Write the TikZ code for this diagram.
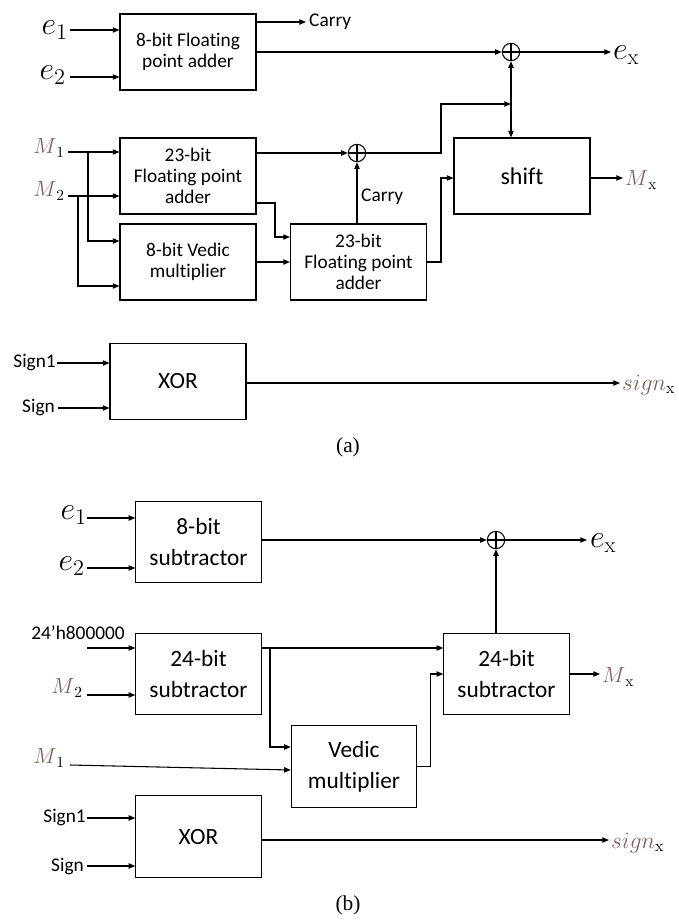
\RequirePackage{fix-cm}
\documentclass[tikz,border=0pt]{standalone}
\usepackage{fontspec}
\newfontfamily\cfont{Carlito}[Ligatures=NoCommon]
\newfontfamily\capfont{Liberation Serif}
\usetikzlibrary{arrows.meta}
\definecolor{mcol}{RGB}{128,96,96}

\begin{document}
\begin{tikzpicture}[x=0.75pt, y=-0.75pt, line width=0.8pt,
    blk/.style={draw, minimum width=102pt, minimum height=57pt, inner sep=1pt,
      align=center, font=\cfont\fontsize{14.5}{15.5}\selectfont},
    bblk/.style={draw, minimum width=94pt, minimum height=61pt, inner sep=1pt,
      align=center, font=\cfont\fontsize{17.5}{23}\selectfont},
    lab/.style={inner sep=0.5pt, font=\cfont\fontsize{14.5}{16}\selectfont},
    elab/.style={inner sep=0.5pt, font=\fontsize{24}{26}\selectfont},
    mlab/.style={inner sep=0.5pt, font=\fontsize{16.5}{18}\selectfont},
    arr/.style={-{Triangle[length=5pt, width=4pt]}},
    arr2/.style={{Triangle[length=5pt, width=4pt]}-{Triangle[length=5pt, width=4pt]}},
    xsum/.style={circle, draw, minimum size=13pt, inner sep=0pt}]
  \useasboundingbox (0,0) rectangle (678,920);

  % (a) exponent part
  \node[blk] (fadd) at (188,52) {8-bit Floating\\point adder};
  \coordinate (ine1) at (70,30);
  \coordinate (ine2) at (70,77);
  \node[elab, anchor=east] (e1a) at (69,30) {$e_1$};
  \node[elab, anchor=east] (e2a) at (67,75) {$e_2$};
  \draw[arr] (ine1) -- (ine1 -| fadd.west);
  \draw[arr] (ine2) -- (ine2 -| fadd.west);
  \coordinate (carry1) at (306,22);
  \draw[arr] (carry1 -| fadd.east) -- (carry1);
  \node[lab, anchor=west] (carrya) at (308,22) {Carry};
  \node[xsum] (suma) at (511,52) {};
  \draw (suma.north) -- (suma.south) (suma.west) -- (suma.east);
  \draw[arr] (suma -| fadd.east) -- (suma.west);
  \coordinate (outea) at (611,52);
  \draw[arr] (suma.east) -- (outea);
  \node[elab, anchor=west] (exa) at (612,55) {$e_{\mathrm{x}}$};

  % (a) mantissa part
  \node[blk] (madd) at (188,176) {23-bit\\Floating point\\adder};
  \node[blk] (vmul) at (188,262) {8-bit Vedic\\multiplier};
  \node[blk] (madd2) at (358.5,262) {23-bit\\Floating point\\adder};
  \node[blk, font=\cfont\fontsize{18}{20}\selectfont] (shft) at (522,176) {shift};
  \node[xsum] (sumb) at (357,153) {};
  \draw (sumb.north) -- (sumb.south) (sumb.west) -- (sumb.east);
  \coordinate (inm1) at (68,152);
  \coordinate (inm2) at (68,196);
  \node[mlab, anchor=east] (m1a) at (66,148) {$\textcolor{mcol}{M}_1$};
  \node[mlab, anchor=east] (m2a) at (66,191) {$\textcolor{mcol}{M}_2$};
  \draw[arr] (inm1) -- (inm1 -| madd.west);
  \draw[arr] (inm2) -- (inm2 -| madd.west);
  \coordinate (brm1) at (88,241);
  \coordinate (brm2) at (78,286);
  \draw[arr] (inm1 -| brm1) -- (brm1) -- (brm1 -| vmul.west);
  \draw[arr] (inm2 -| brm2) -- (brm2) -- (brm2 -| vmul.west);
  \draw[arr] (sumb -| madd.east) -- (sumb.west);
  \coordinate (bend1) at (275,203);
  \coordinate (bend2) at (275,237);
  \draw[arr] (bend1 -| madd.east) -- (bend1) -- (bend2) -- (bend2 -| madd2.west);
  \draw[arr] (vmul.east) -- (madd2.west);
  \draw[arr] (sumb |- madd2.north) -- (sumb.south);
  \node[lab, anchor=west] (carryb) at (360,197) {Carry};
  \coordinate (bend3) at (441,104);
  \coordinate (jn) at (511,104);
  \draw[arr] (sumb.east) -| (bend3) -- (jn);
  \draw[arr2] (suma.south) -- (suma.south |- shft.north);
  \coordinate (bend4) at (441,178);
  \draw[arr] (madd2.east) -| (bend4) -- (bend4 -| shft.west);
  \coordinate (outma) at (623,178);
  \draw[arr] (outma -| shft.east) -- (outma);
  \node[mlab, anchor=west] (mxa) at (624,180) {$\textcolor{mcol}{M}_{\mathrm{x}}$};

  % (a) sign part
  \node[blk, font=\cfont\fontsize{17.5}{20}\selectfont] (xora) at (178,381.5) {XOR};
  \coordinate (ins1a) at (57,363);
  \coordinate (ins2a) at (58,408);
  \node[lab, anchor=east] (s1a) at (57,363) {Sign1};
  \node[lab, anchor=east] (s2a) at (56,408) {Sign};
  \draw[arr] (ins1a) -- (ins1a -| xora.west);
  \draw[arr] (ins2a) -- (ins2a -| xora.west);
  \coordinate (outsa) at (620,383);
  \draw[arr] (outsa -| xora.east) -- (outsa);
  \node[mlab, anchor=west, font=\fontsize{17.5}{19}\selectfont] (sxa) at (621,385) {$\textcolor{mcol}{sign}_{\mathrm{x}}$};
  \node[font=\capfont\fontsize{16}{18}\selectfont] (capa) at (348,447) {(a)};

  % (b) exponent part
  \node[bblk] (esub) at (198.5,542) {8-bit\\subtractor};
  \coordinate (inbe1) at (87,518);
  \coordinate (inbe2) at (87,568);
  \node[elab, anchor=east] (e1b) at (88,515) {$e_1$};
  \node[elab, anchor=east] (e2b) at (86,566) {$e_2$};
  \draw[arr] (inbe1) -- (inbe1 -| esub.west);
  \draw[arr] (inbe2) -- (inbe2 -| esub.west);
  \node[xsum] (sumc) at (496,540) {};
  \draw (sumc.north) -- (sumc.south) (sumc.west) -- (sumc.east);
  \draw[arr] (sumc -| esub.east) -- (sumc.west);
  \coordinate (outeb) at (587,540);
  \draw[arr] (sumc.east) -- (outeb);
  \node[elab, anchor=west] (exb) at (589,543) {$e_{\mathrm{x}}$};

  % (b) mantissa part
  \node[bblk] (msub) at (198.5,674) {24-bit\\subtractor};
  \node[bblk] (vmulb) at (354,766.5) {Vedic\\multiplier};
  \node[bblk] (msub2) at (506.5,674) {24-bit\\subtractor};
  \coordinate (in24) at (87,648);
  \coordinate (inbm2) at (87,695);
  \node[lab] (c24) at (78,633) {24’h800000};
  \node[mlab, anchor=east] (m2b) at (84,688) {$\textcolor{mcol}{M}_2$};
  \draw[arr] (in24) -- (in24 -| msub.west);
  \draw[arr] (inbm2) -- (inbm2 -| msub.west);
  \draw[arr] (in24 -| msub.east) -- (in24 -| msub2.west);
  \coordinate (brv) at (270,747);
  \draw[arr] (in24 -| brv) -- (brv) -- (brv -| vmulb.west);
  \coordinate (inbm1) at (70,765);
  \coordinate (endm1) at (0,770);
  \node[mlab, anchor=east] (m1b) at (66,758) {$\textcolor{mcol}{M}_1$};
  \draw[arr] (inbm1) -- (vmulb.west |- endm1);
  \draw[arr] (vmulb.east) -- ++(13,0) |- (msub2.west);
  \draw[arr] (sumc |- msub2.north) -- (sumc.south);
  \coordinate (outmb) at (600,674);
  \draw[arr] (msub2.east) -- (outmb);
  \node[mlab, anchor=west] (mxb) at (601,677) {$\textcolor{mcol}{M}_{\mathrm{x}}$};

  % (b) sign part
  \node[bblk] (xorb) at (198.5,836.5) {XOR};
  \coordinate (ins1b) at (87,818);
  \coordinate (ins2b) at (87,866);
  \node[lab, anchor=east] (s1b) at (87,818) {Sign1};
  \node[lab, anchor=east] (s2b) at (85,866) {Sign};
  \draw[arr] (ins1b) -- (ins1b -| xorb.west);
  \draw[arr] (ins2b) -- (ins2b -| xorb.west);
  \coordinate (outsb) at (609,840);
  \draw[arr] (outsb -| xorb.east) -- (outsb);
  \node[mlab, anchor=west, font=\fontsize{17.5}{19}\selectfont] (sxb) at (610,843) {$\textcolor{mcol}{sign}_{\mathrm{x}}$};
  \node[font=\capfont\fontsize{16}{18}\selectfont] (capb) at (348,905) {(b)};
\end{tikzpicture}
\end{document}
